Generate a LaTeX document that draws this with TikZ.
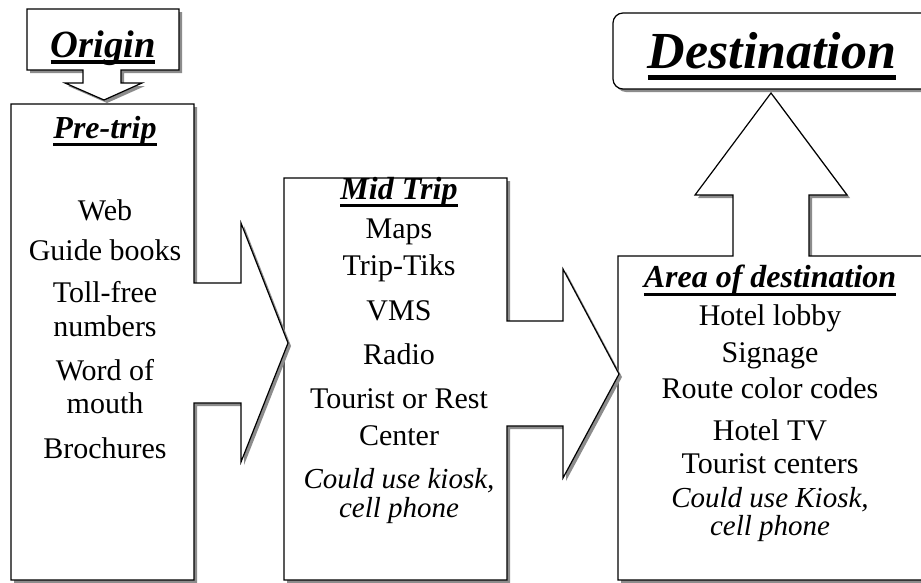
\documentclass[tikz,border=0pt]{standalone}
\usepackage{fontspec}
\setmainfont{Liberation Serif}
\usetikzlibrary{shadows}

\tikzset{
  callout/.style={draw=black, fill=white, line width=1.2pt,
    drop shadow={shadow xshift=3pt, shadow yshift=-3pt, fill=black!45, opacity=1}},
  item/.style={anchor=base, inner sep=0pt, font=\fontsize{30}{34}\selectfont},
  note/.style={anchor=base, inner sep=0pt, font=\fontsize{29}{33}\selectfont\itshape},
  head/.style={anchor=base, inner sep=0pt, font=\fontsize{32}{36}\selectfont\bfseries\itshape},
}
\newcommand{\hdul}[3][3.5pt]{\setbox0\hbox{#3}\rlap{\copy0}\rule[-#2]{\wd0}{#1}}

\begin{document}
\begin{tikzpicture}[x=1pt, y=-1pt]
            \clip (0,0) rectangle (921,582);
            \fill[white] (0,0) rectangle (921,582);
            \draw[callout, rounded corners=10pt] (613,13) rectangle (931,89);
            \draw[callout] (618,256) -- (733,256) -- (733,195) -- (695,195) -- (771,93) -- (847,195) -- (809,195) -- (809,256) -- (925,256) -- (925,580) -- (618,580) -- cycle;
            \draw[callout] (284,178) -- (507,178) -- (507,321) -- (563,321) -- (563,269) -- (619,374) -- (563,478) -- (563,426) -- (507,426) -- (507,580) -- (284,580) -- cycle;
            \draw[callout] (11,104) -- (194,104) -- (194,283) -- (241,283) -- (241,223) -- (288,343) -- (241,462) -- (241,403) -- (194,403) -- (194,580) -- (11,580) -- cycle;
            \draw[callout] (27,9) -- (179,9) -- (179,70) -- (121,70) -- (121,83) -- (142,83) -- (104,100) -- (65,83) -- (83,83) -- (83,70) -- (27,70) -- cycle;
            \node[head, font=\fontsize{52}{56}\selectfont\bfseries\itshape] (dest) at (772,68) {\hdul[5pt]{12pt}{Destination}};
            \node[head, font=\fontsize{38.5}{42}\selectfont\bfseries\itshape] (origin) at (103,57) {\hdul[4pt]{7pt}{Origin}};
            \node[head] (pretrip) at (105,138) {\hdul{8pt}{Pre-trip}};
            \node[item] (web) at (105,220) {Web};
            \node[item] (guide) at (105,260) {Guide books};
            \node[item] (tollfree) at (105,302) {Toll-free};
            \node[item] (numbers) at (105,336) {numbers};
            \node[item] (wordof) at (105,380) {Word of};
            \node[item] (mouth) at (105,413) {mouth};
            \node[item] (brochures) at (105,458) {Brochures};
            \node[head] (midtrip) at (399,199) {\hdul{8pt}{Mid Trip}};
            \node[item] (maps) at (399,238) {Maps};
            \node[item] (triptiks) at (399,275) {Trip-Tiks};
            \node[item] (vms) at (399,320) {VMS};
            \node[item] (radio) at (399,364) {Radio};
            \node[item] (tourist) at (399,408) {Tourist or Rest};
            \node[item] (center) at (399,445) {Center};
            \node[note] (kioskmid) at (399,488) {Could use kiosk,};
            \node[note] (cellmid) at (399,517) {cell phone};
            \node[head] (area) at (770,287) {\hdul{9pt}{Area of destination}};
            \node[item] (lobby) at (770,325) {Hotel lobby};
            \node[item] (signage) at (770,362) {Signage};
            \node[item] (route) at (770,398) {Route color codes};
            \node[item] (hoteltv) at (770,440) {Hotel TV};
            \node[item] (centers) at (770,473) {Tourist centers};
            \node[note] (kioskarea) at (770,507) {Could use Kiosk,};
            \node[note] (cellarea) at (770,535) {cell phone};
        \end{tikzpicture}
\end{document}
